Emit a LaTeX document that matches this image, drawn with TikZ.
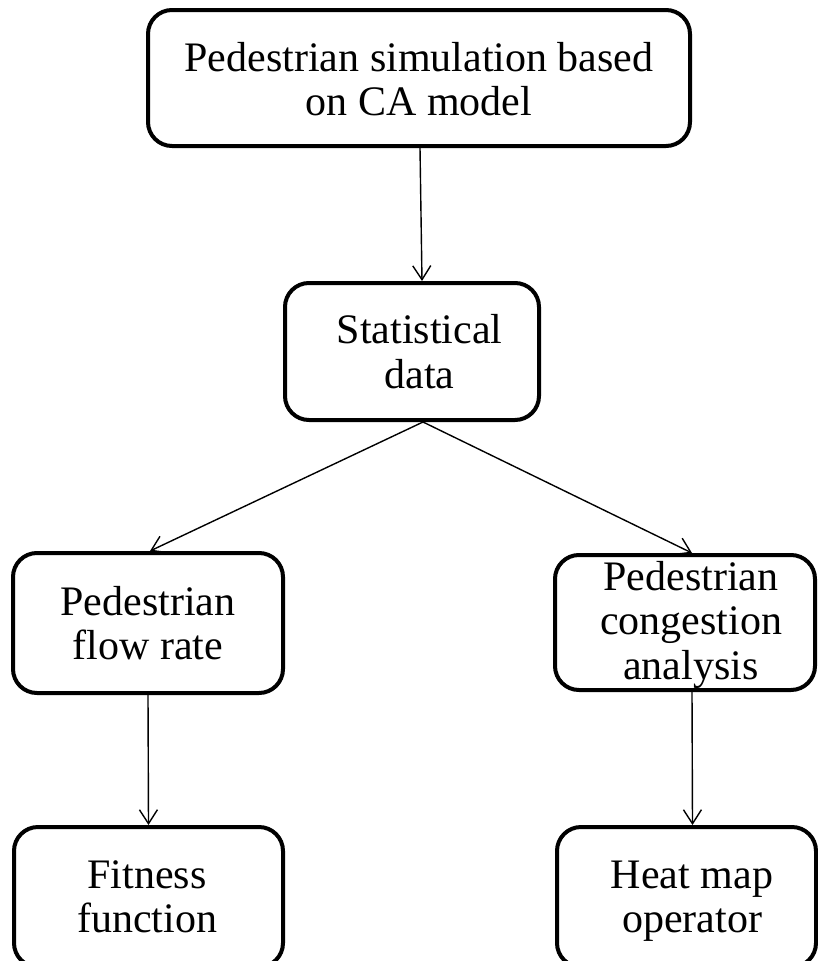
\documentclass[tikz,border=0pt]{standalone}
\usepackage{fontspec}
\setmainfont{Liberation Serif}
\usetikzlibrary{arrows.meta}
\begin{document}
\begin{tikzpicture}[x=1pt,y=-1pt,
  box/.style={draw=black, line width=4pt, rounded corners=24pt,
    minimum width=#1, inner sep=0pt},
  label/.style={align=center, inner sep=0pt,
    font=\fontsize{42}{44.5}\selectfont},
  link/.style={line width=1.4pt, -{Straight Barb[length=14pt,width=18pt,line width=1.4pt]}}
]
\useasboundingbox (0,0) rectangle (817,961);

% boxes (border centre lines)
\node[box=542pt, minimum height=136pt] (b1) at (419,78) {};
\node[box=254pt, minimum height=137pt] (b2) at (412,351.5) {};
\node[box=270pt, minimum height=140pt] (b3) at (148,623) {};
\node[box=260pt, minimum height=135pt] (b4) at (685,622.5) {};
\node[box=269pt, minimum height=140pt] (b5) at (148.5,897) {};
\node[box=259pt, minimum height=140pt] (b6) at (686.5,897) {};

% texts (note: yshift is in canvas units, negative moves down)
\node[label] (t1) at ([yshift=-1pt]b1.center) {Pedestrian simulation based\\on CA model};
\node[label] (t2) at ([xshift=7.5pt]b2.center) {Statistical\\data};
\node[label] (t3) at (b3.center) {Pedestrian\\flow rate};
\node[label] (t4) at ([xshift=6pt,yshift=-2pt]b4.center) {Pedestrian\\congestion\\analysis};
\node[label] (t5) at ([xshift=-1.5pt]b5.center) {Fitness\\function};
\node[label] (t6) at ([xshift=5.5pt,yshift=-4pt]b6.center) {Heat map\\operator};

% connectors
\draw[link] ([xshift=1pt]b1.south) -- ([xshift=10pt]b2.north);
\draw[link] ([xshift=11pt]b2.south) -- ([xshift=2pt]b3.north);
\draw[link] ([xshift=11pt]b2.south) -- ([xshift=7pt]b4.north);
\draw[link] (b3.south) -- (b5.north);
\draw[link] ([xshift=7pt]b4.south) -- ([xshift=6pt]b6.north);
\end{tikzpicture}
\end{document}
